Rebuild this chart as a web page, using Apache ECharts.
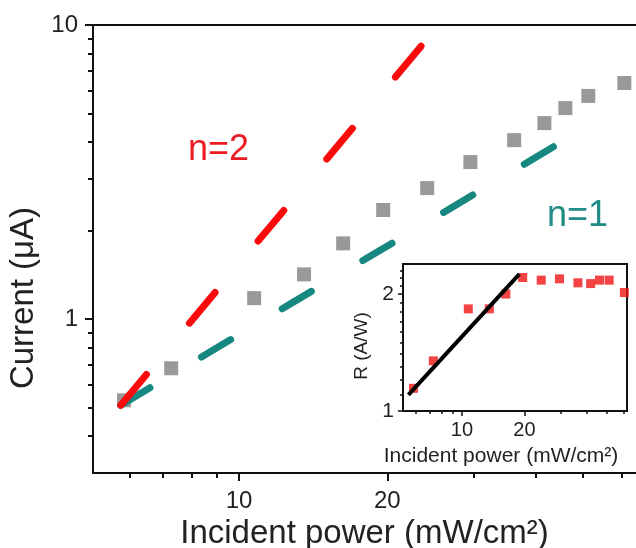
<!DOCTYPE html>
<html>
<head>
<meta charset="utf-8">
<script src="https://cdn.jsdelivr.net/npm/echarts@6/dist/echarts.min.js"></script>
<style>
html,body{margin:0;padding:0;background:#fff;}
#chart{width:636px;height:548px;}
</style>
</head>
<body>
<div id="chart"></div>
<script>
// ---- data ----
const powerX = [5.84, 7.28, 10.73, 13.55, 16.27, 19.62, 24.1, 29.5, 36.2, 41.7, 46.0, 51.2, 60.6];
const currentY = [0.530, 0.681, 1.179, 1.42, 1.81, 2.35, 2.79, 3.42, 4.06, 4.64, 5.22, 5.74, 6.35];
const responsivityR = [1.144, 1.346, 1.832, 1.832, 2.0, 2.206, 2.172, 2.189, 2.138, 2.128, 2.172, 2.172, 2.018];
const n2X = [5.75, 23.8];
const n2Y = [0.51, 8.74];
const n1X = [5.75, 44.8];
const n1Y = [0.51, 3.97];
const fitX = [5.52, 18.9];
const fitR = [1.10, 2.25];
// tick labels / tick positions
const mainXTicks = [10, 20];
const mainXMinor = [6, 7, 8, 9, 30, 40, 50, 60];
const mainYTicks = [1, 10];
const mainYMinor = [0.4, 0.5, 0.6, 0.7, 0.8, 0.9, 2, 3, 4, 5, 6, 7, 8, 9];
const insetXTicks = [10, 20];
const insetXMinor = [6, 7, 8, 9, 30, 40, 50, 60];
const insetYTicks = [1, 2];
const insetYMinor = [1.1, 1.2, 1.3, 1.4, 1.5, 1.6, 1.7, 1.8, 1.9, 2.1, 2.2, 2.3];

const FONT = 'Liberation Sans, Arial, Helvetica, sans-serif';
const MAIN_X = [5.05, 64], MAIN_Y = [0.3, 10];
const INSET_X = [5.2, 62.4], INSET_Y = [1, 2.39];

const lg = Math.log10;
const zip = (a, b) => a.map((v, i) => [v, b[i]]);
const fmtPow = v => String(Math.round(Math.pow(10, v) * 100) / 100);

// overlay value axis drawn in log10 space (ticks / labels / lines only)
function overlay(gridIndex, range, o) {
  return Object.assign({
    type: 'value', gridIndex: gridIndex,
    min: lg(range[0]), max: lg(range[1]),
    splitLine: {show: false},
    axisLine: {show: false, onZero: false},
    axisTick: {show: false},
    axisLabel: {show: false},
    silent: true
  }, o);
}
const lineBlack = {show: true, onZero: false, lineStyle: {color: '#111', width: 2}};

const option = {
  animation: false,
  backgroundColor: '#fff',
  textStyle: {fontFamily: FONT},
  grid: [
    {left: 93, right: 0, top: 25, bottom: 75, show: false, outerBoundsMode: 'none'},
    {left: 403, right: 9, top: 264, bottom: 137, show: true, backgroundColor: '#fff',
     borderColor: '#111', borderWidth: 2, z: 5, outerBoundsMode: 'none'}
  ],
  xAxis: [
    // 0: main data (log)
    {type: 'log', gridIndex: 0, min: MAIN_X[0], max: MAIN_X[1], show: false, position: 'bottom'},
    // 1: main bottom axis with major ticks + labels + title
    overlay(0, MAIN_X, {
      position: 'bottom',
      axisLine: lineBlack,
      axisTick: {show: true, inside: false, length: 8, customValues: mainXTicks.map(lg), lineStyle: {color: '#111', width: 2}},
      axisLabel: {show: true, customValues: mainXTicks.map(lg), formatter: fmtPow, fontSize: 24, color: '#222', margin: 16, fontFamily: FONT},
      name: 'Incident power (mW/cm²)', nameLocation: 'middle', nameGap: 42,
      nameTextStyle: {fontSize: 33, color: '#222', fontFamily: FONT}
    }),
    // 2: main minor ticks
    overlay(0, MAIN_X, {
      position: 'bottom',
      axisTick: {show: true, inside: false, length: 5, customValues: mainXMinor.map(lg), lineStyle: {color: '#111', width: 2}}
    }),
    // 3: main top frame line
    overlay(0, MAIN_X, {position: 'top', axisLine: lineBlack}),
    // 4: inset data (log)
    {type: 'log', gridIndex: 1, min: INSET_X[0], max: INSET_X[1], show: false, position: 'bottom'},
    // 5: inset bottom axis
    overlay(1, INSET_X, {
      position: 'bottom', z: 6,
      axisTick: {show: true, inside: false, length: 5, customValues: insetXTicks.map(lg), lineStyle: {color: '#111', width: 1.5}},
      axisLabel: {show: true, customValues: insetXTicks.map(lg), formatter: fmtPow, fontSize: 20, color: '#222', margin: 9, fontFamily: FONT},
      name: 'Incident power (mW/cm²)', nameLocation: 'middle', nameGap: 35,
      nameTextStyle: {fontSize: 21, color: '#222', fontFamily: FONT, padding: [0, 28, 0, 0]}
    }),
    // 6: inset minor x ticks
    overlay(1, INSET_X, {
      position: 'bottom', z: 6,
      axisTick: {show: true, inside: false, length: 3, customValues: insetXMinor.map(lg), lineStyle: {color: '#111', width: 1.5}}
    })
  ],
  yAxis: [
    // 0: main data (log)
    {type: 'log', gridIndex: 0, min: MAIN_Y[0], max: MAIN_Y[1], show: false, position: 'left'},
    // 1: main left axis
    overlay(0, MAIN_Y, {
      position: 'left',
      axisLine: lineBlack,
      axisTick: {show: true, inside: false, length: 8, customValues: mainYTicks.map(lg), lineStyle: {color: '#111', width: 2}},
      axisLabel: {show: true, customValues: mainYTicks.map(lg), formatter: fmtPow, fontSize: 24, color: '#222', margin: 15, fontFamily: FONT},
      name: 'Current (μA)', nameLocation: 'middle', nameGap: 39,
      nameTextStyle: {fontSize: 33, color: '#222', fontFamily: FONT, padding: [0, 98, 0, 0]}
    }),
    // 2: main minor ticks
    overlay(0, MAIN_Y, {
      position: 'left',
      axisTick: {show: true, inside: false, length: 5, customValues: mainYMinor.map(lg), lineStyle: {color: '#111', width: 2}}
    }),
    // 3: inset data (log)
    {type: 'log', gridIndex: 1, min: INSET_Y[0], max: INSET_Y[1], show: false, position: 'left'},
    // 4: inset left axis
    overlay(1, INSET_Y, {
      position: 'left', z: 6,
      axisTick: {show: true, inside: false, length: 5, customValues: insetYTicks.map(lg), lineStyle: {color: '#111', width: 1.5}},
      axisLabel: {show: true, customValues: insetYTicks.map(lg), formatter: fmtPow, fontSize: 21, color: '#222', margin: 9, fontFamily: FONT},
      name: 'R (A/W)', nameLocation: 'middle', nameGap: 32,
      nameTextStyle: {fontSize: 19, color: '#222', fontFamily: FONT, padding: [0, 17, 0, 0]}
    }),
    // 5: inset minor y ticks
    overlay(1, INSET_Y, {
      position: 'left', z: 6,
      axisTick: {show: true, inside: false, length: 3, customValues: insetYMinor.map(lg), lineStyle: {color: '#111', width: 1.5}}
    })
  ],
  series: [
    {
      name: 'Current', type: 'scatter', xAxisIndex: 0, yAxisIndex: 0,
      symbol: 'rect', symbolSize: 14, itemStyle: {color: '#7f7f7f'},
      data: zip(powerX, currentY), z: 2
    },
    {
      name: 'n=1', type: 'line', xAxisIndex: 0, yAxisIndex: 0,
      symbol: 'none', data: zip(n1X, n1Y), z: 3,
      lineStyle: {color: '#178880', width: 7, type: [34, 60], cap: 'round'},
      markPoint: {
        symbol: 'rect', symbolSize: 1, itemStyle: {color: 'rgba(0,0,0,0)'},
        label: {show: true, position: 'inside', formatter: 'n=1', fontSize: 36, color: '#1f8c86', fontFamily: FONT},
        data: [{coord: [48.7, 2.24]}]
      }
    },
    {
      name: 'n=2', type: 'line', xAxisIndex: 0, yAxisIndex: 0,
      symbol: 'none', data: zip(n2X, n2Y), z: 4,
      lineStyle: {color: '#fa0a0a', width: 7, type: [40, 67], cap: 'round'},
      markPoint: {
        symbol: 'rect', symbolSize: 1, itemStyle: {color: 'rgba(0,0,0,0)'},
        label: {show: true, position: 'inside', formatter: 'n=2', fontSize: 36, color: '#ec1c24', fontFamily: FONT},
        data: [{coord: [9.08, 3.76]}]
      }
    },
    {
      name: 'R', type: 'scatter', xAxisIndex: 4, yAxisIndex: 3,
      symbol: 'rect', symbolSize: 9, itemStyle: {color: '#f01414'},
      data: zip(powerX, responsivityR), z: 7
    },
    {
      name: 'fit', type: 'line', xAxisIndex: 4, yAxisIndex: 3,
      symbol: 'none', data: zip(fitX, fitR), z: 8,
      lineStyle: {color: '#000', width: 4}
    }
  ]
};

const chart = echarts.init(document.getElementById('chart'), null, {renderer: 'canvas'});
chart.setOption(option);
</script>
</body>
</html>
